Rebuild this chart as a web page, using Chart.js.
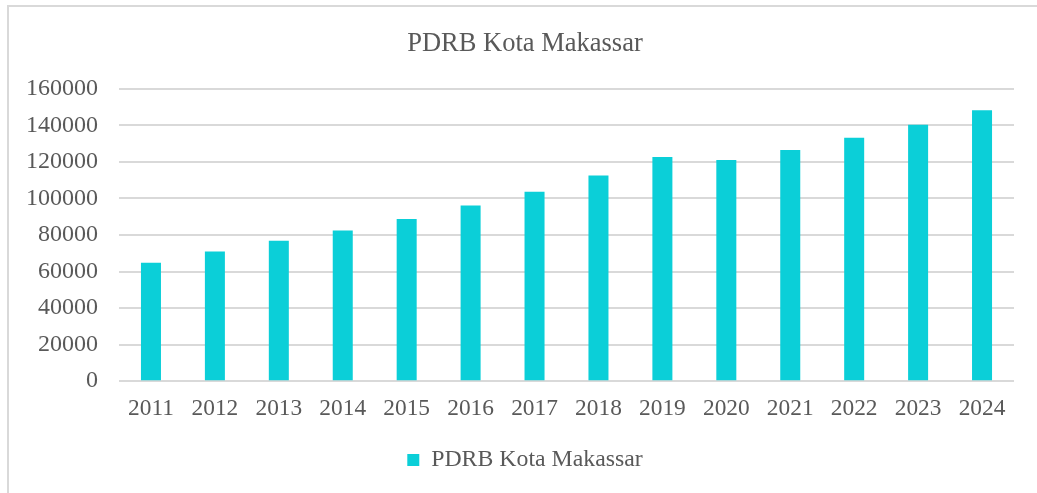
<!DOCTYPE html>
<html>
<head>
<meta charset="utf-8">
<script src="https://cdn.jsdelivr.net/npm/chart.js@4/dist/chart.umd.min.js"></script>
<style>
    html, body { margin: 0; padding: 0; background: #fff; }
    #wrap { width: 1037px; height: 493px; position: relative; }
</style>
</head>
<body>
<div id="wrap"><canvas id="pdrb"></canvas></div>
<script>
    var years = ["2011", "2012", "2013", "2014", "2015", "2016", "2017",
                 "2018", "2019", "2020", "2021", "2022", "2023", "2024"];
    var pdrb = [64800, 71000, 76800, 82400, 88800, 96100, 103700,
                112500, 122700, 121000, 126500, 133200, 140300, 148300];
    var seriesName = "PDRB Kota Makassar";
    var yTicks = [0, 20000, 40000, 60000, 80000, 100000, 120000, 140000, 160000];

    var serif = "'Liberation Serif', 'Times New Roman', serif";
    var textColor = "#595959";

    // light frame round the chart, like the office chart border
    var frame = {
        id: 'frame',
        afterLayout: function (chart) {
            // let the y labels use the left padding too (labels are clipped to the scale box)
            var y = chart.scales.y;
            y.left = 0;
            y.width = y.right;
        },
        beforeDraw: function (chart) {
            var ctx = chart.ctx;
            ctx.save();
            ctx.fillStyle = "#fff";
            ctx.fillRect(0, 0, chart.width, chart.height);
            ctx.strokeStyle = "#d9d9d9";
            ctx.lineWidth = 2;
            ctx.beginPath();
            ctx.moveTo(8, chart.height);
            ctx.lineTo(8, 6);
            ctx.lineTo(chart.width, 6);
            ctx.stroke();
            ctx.restore();
        }
    };

    new Chart(document.getElementById("pdrb"), {
        type: "bar",
        data: {
            labels: years,
            datasets: [{
                label: seriesName,
                data: pdrb,
                backgroundColor: "#0bcfd8",
                borderWidth: 0,
                categoryPercentage: 1,
                barPercentage: 0.313
            }]
        },
        options: {
            responsive: true,
            maintainAspectRatio: false,
            animation: false,
            layout: { padding: { top: 0, left: 36, right: 23, bottom: 11 } },
            plugins: {
                title: {
                    display: true,
                    text: seriesName,
                    color: textColor,
                    font: { family: serif, size: 26.5, weight: "normal" },
                    padding: { top: 28, bottom: 29 }
                },
                legend: {
                    display: true,
                    position: "bottom",
                    labels: {
                        color: textColor,
                        font: { family: serif, size: 23.8 },
                        boxWidth: 12,
                        boxHeight: 12,
                        padding: 17
                    }
                },
                tooltip: { enabled: false }
            },
            scales: {
                x: {
                    grid: { display: false },
                    border: { display: false },
                    ticks: {
                        color: textColor,
                        font: { family: serif, size: 23.4 },
                        padding: 6,
                        maxRotation: 0
                    },
                    afterFit: function (scale) { scale.height = 50; }
                },
                y: {
                    min: 0,
                    max: 160000,
                    border: { display: false },
                    grid: { color: "#d9d9d9", lineWidth: 2, drawTicks: false },
                    afterBuildTicks: function (scale) {
                        scale.ticks = yTicks.map(function (v) { return { value: v }; });
                    },
                    ticks: {
                        color: textColor,
                        font: { family: serif, size: 24 },
                        padding: 21,
                        callback: function (v) { return String(v); }
                    },
                    afterFit: function (scale) { scale.width = 83; }
                }
            }
        },
        plugins: [frame]
    });
</script>
</body>
</html>
